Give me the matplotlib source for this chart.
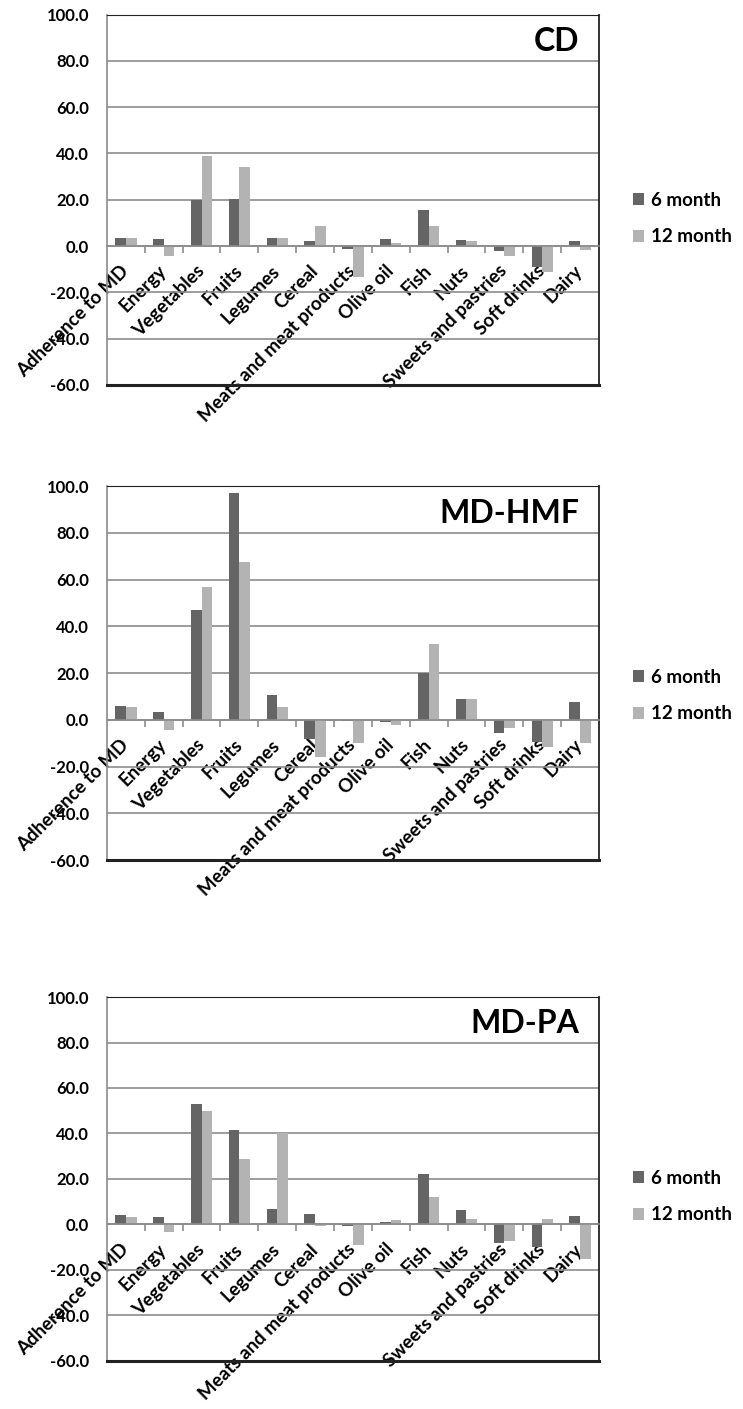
import numpy as np
import matplotlib.pyplot as plt
from matplotlib.ticker import MultipleLocator, FixedLocator

plt.rcParams['font.family'] = ['Lato', 'DejaVu Sans']
plt.rcParams['font.weight'] = 'bold'

# Categories on the x axis
categories = ['Adherence to MD', 'Energy', 'Vegetables', 'Fruits', 'Legumes',
              'Cereal', 'Meats and meat products', 'Olive oil', 'Fish', 'Nuts',
              'Sweets and pastries', 'Soft drinks', 'Dairy']

# Percent change per group
cd_6 = [3.5, 3.0, 20.0, 20.5, 3.5, 2.3, -1.3, 3.0, 15.5, 2.5, -2.0, -9.0, 2.3]
cd_12 = [3.5, -4.5, 39.0, 34.3, 3.5, 8.5, -13.3, 1.5, 8.8, 2.0, -4.2, -11.2, -1.8]

hmf_6 = [6.0, 3.3, 46.8, 97.0, 10.7, -8.1, -0.7, -0.8, 20.0, 9.0, -5.8, -9.6, 7.5]
hmf_12 = [5.5, -4.3, 56.7, 67.7, 5.5, -15.8, -10.1, -2.2, 32.6, 9.0, -3.5, -11.6, -10.1]

pa_6 = [4.1, 3.2, 53.0, 41.4, 6.8, 4.6, -0.8, 1.2, 22.0, 6.4, -8.1, -10.0, 3.8]
pa_12 = [3.5, -3.2, 50.1, 28.7, 40.0, -0.5, -9.1, 1.8, 11.9, 2.5, -7.1, 2.3, -15.1]

panels = [('CD', cd_6, cd_12), ('MD-HMF', hmf_6, hmf_12), ('MD-PA', pa_6, pa_12)]

dark = '#656565'
light = '#b3b3b3'
grid = '#8c8c8c'

fig = plt.figure(figsize=(7.43, 14.09), dpi=100)

# axes rectangles (left, bottom, width, height) in figure fractions
boxes = [(0.144, 0.7268, 0.662, 0.2629),
         (0.144, 0.3896, 0.662, 0.2654),
         (0.144, 0.0341, 0.662, 0.2583)]
legend_y = [0.449, 0.44, 0.452]

x = np.arange(len(categories))
w = 0.28

for (name, v6, v12), box, ly in zip(panels, boxes, legend_y):
    ax = fig.add_axes(box)
    ax.bar(x - w / 2, v6, w, color=dark, label='6 month', zorder=3)
    ax.bar(x + w / 2, v12, w, color=light, label='12 month', zorder=3)

    ax.set_xlim(-0.5, len(categories) - 0.5)
    ax.set_ylim(-60, 100)
    ax.yaxis.set_major_locator(MultipleLocator(20))
    ax.yaxis.set_major_formatter(lambda v, p: f'{v:.1f}')
    ax.grid(axis='y', color=grid, linewidth=1.2, zorder=0)
    ax.tick_params(axis='y', length=0, labelsize=12, pad=13)

    # category axis sits at zero
    ax.spines['bottom'].set_position(('data', 0))
    ax.spines['bottom'].set_color(grid)
    ax.spines['bottom'].set_linewidth(1.2)
    ax.spines['bottom'].set_zorder(4)
    ax.spines['left'].set_color(grid)
    ax.spines['left'].set_linewidth(1.2)
    ax.spines['top'].set_color('#222222')
    ax.spines['right'].set_color('#222222')
    ax.spines['right'].set_linewidth(1.3)
    ax.xaxis.set_major_locator(FixedLocator(x))
    ax.xaxis.set_minor_locator(FixedLocator(x[:-1] + 0.5))
    ax.set_xticklabels(categories, rotation=45, ha='right', va='center',
                       rotation_mode='anchor', fontsize=13.5)
    ax.tick_params(axis='x', which='major', length=0, pad=16)
    ax.tick_params(axis='x', which='minor', length=5, color=grid, width=1.2)

    # bottom frame line
    ax.plot([0, 1], [0, 0], transform=ax.transAxes, color='#222222',
            linewidth=2.2, clip_on=False, zorder=5)

    ax.text(0.961, 0.928, name, transform=ax.transAxes, ha='right', va='center',
            fontsize=23, fontweight='bold')

    ax.legend(loc='center left', bbox_to_anchor=(1.05, ly), frameon=False,
              fontsize=13.5, handlelength=0.6, handleheight=0.6,
              handletextpad=0.35, labelspacing=1.05, borderpad=0)

fig.savefig('out.png', dpi=100)
